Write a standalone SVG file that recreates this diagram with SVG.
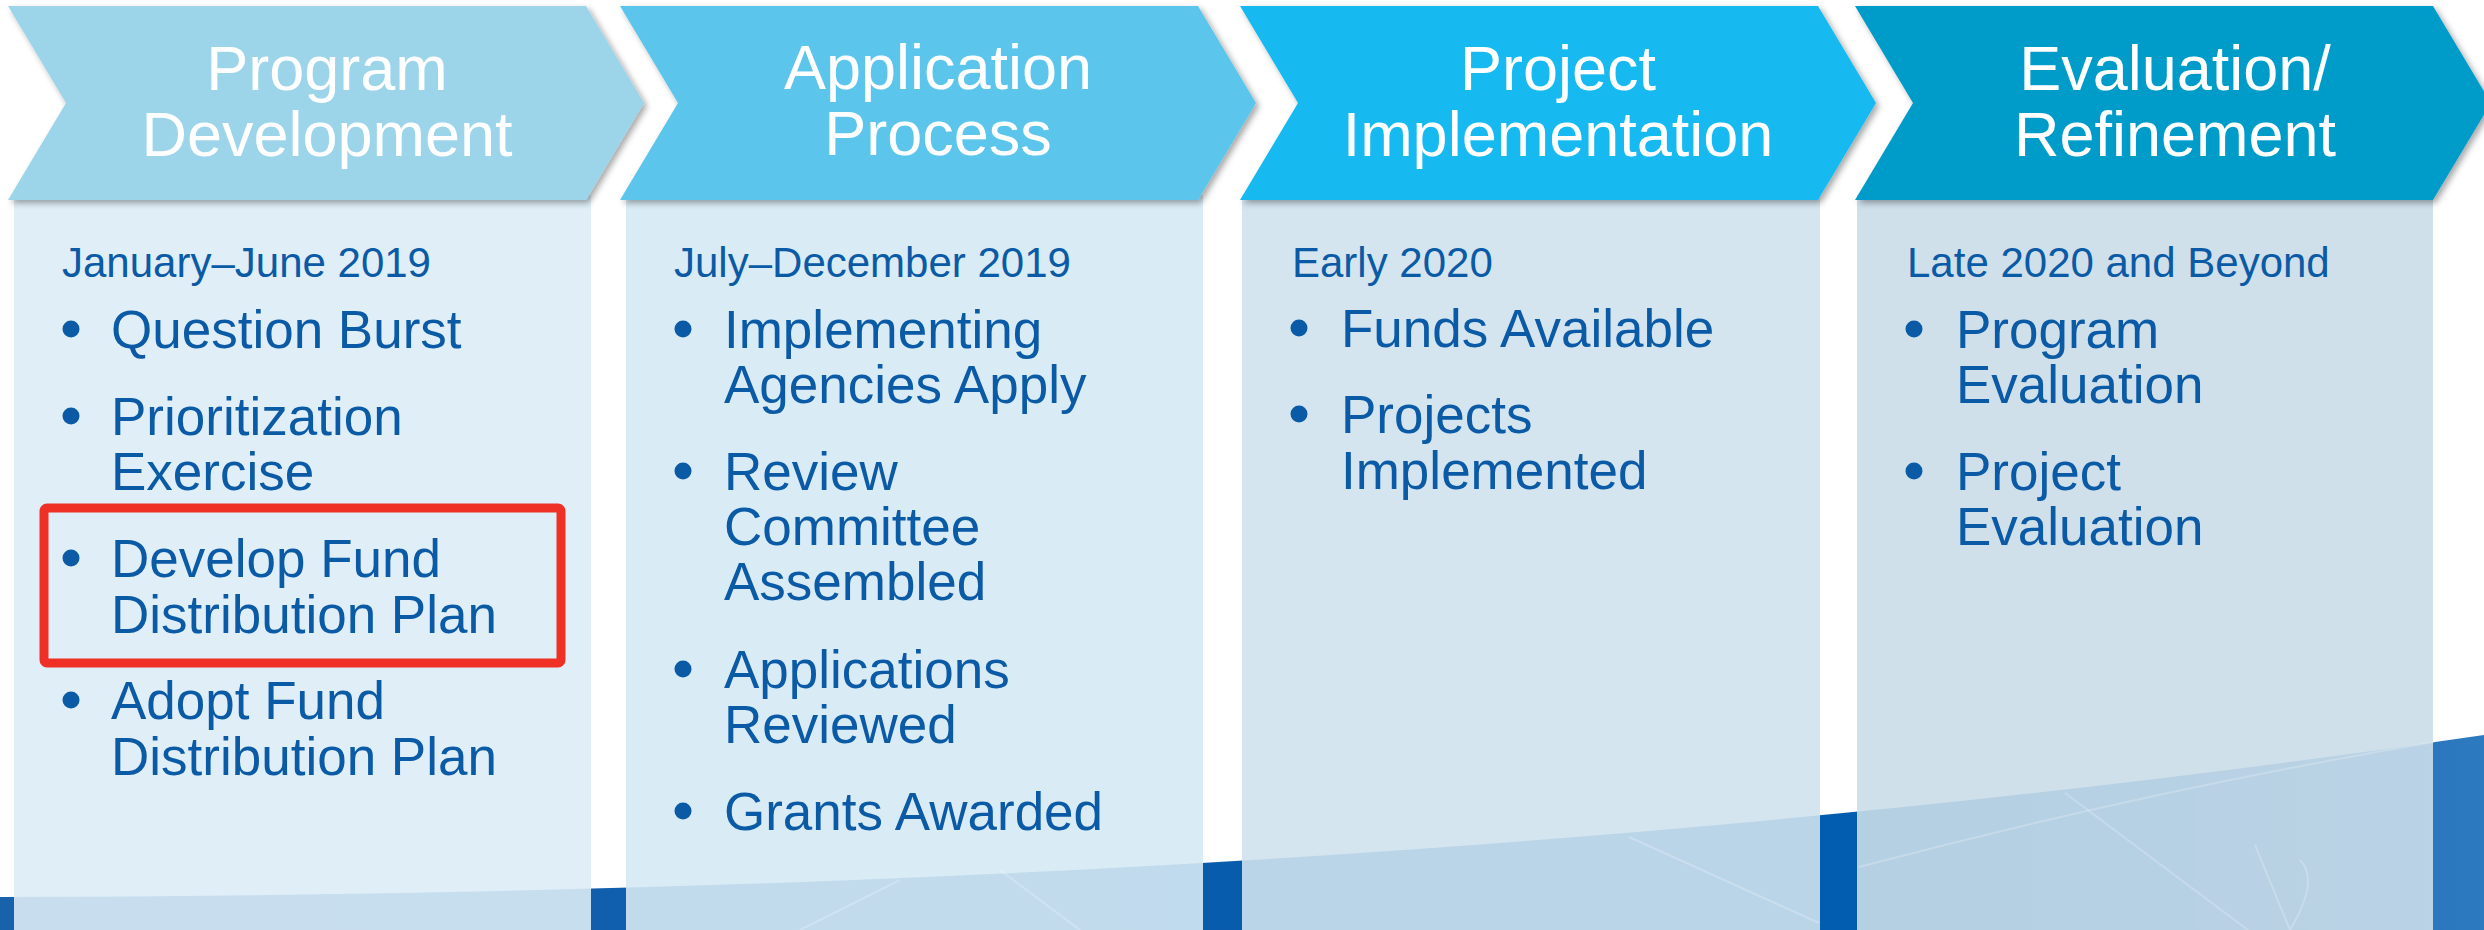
<svg xmlns="http://www.w3.org/2000/svg" width="2484" height="930" viewBox="0 0 2484 930">
  <defs>
    <style>
      .hdr { font-family: "Liberation Sans", Arial, sans-serif; font-size: 63px; fill: #ffffff; text-anchor: middle; }
      .date { font-family: "Liberation Sans", Arial, sans-serif; font-size: 42px; fill: #0b5aa6; }
      .item { font-family: "Liberation Sans", Arial, sans-serif; font-size: 53px; fill: #0b5aa6; }
      .dot { fill: #0b5aa6; }
      .panel { opacity: 0.9; }
      .streak { stroke: #ffffff; stroke-width: 2; fill: none; opacity: 0.22; }
    </style>
    <filter id="shadow" x="-5%" y="-10%" width="112%" height="130%">
      <feDropShadow dx="3" dy="3" stdDeviation="3" flood-color="#000000" flood-opacity="0.35"/>
    </filter>
    <linearGradient id="band" x1="0" y1="0" x2="1" y2="0">
      <stop offset="0" stop-color="#1862ab"/>
      <stop offset="0.45" stop-color="#0a5cac"/>
      <stop offset="0.8" stop-color="#005cb0"/>
      <stop offset="1" stop-color="#2e7ac0"/>
    </linearGradient>
  </defs>

  <!-- background -->
  <g id="background">
    <rect x="0" y="0" width="2484" height="930" fill="#ffffff"/>
    <path d="M0,897 Q1400,895 2484,735 L2484,930 L0,930 Z" fill="url(#band)"/>
  </g>

  <!-- Stage 1 -->
  <g id="stage-program-development">
    <rect class="panel" x="14" y="195" width="577" height="735" fill="#dcecf6"/>
    <path d="M8,6 L586,6 L644,103 L586,200 L8,200 L66,103 Z" fill="#9cd4ea" filter="url(#shadow)"/>
    <text class="hdr" x="327" y="90">Program</text>
    <text class="hdr" x="327" y="156">Development</text>
    <text class="date" x="62" y="277">January–June 2019</text>
    <circle class="dot" cx="71" cy="329" r="8.5"/>
    <text class="item" x="111" y="348">Question Burst</text>
    <circle class="dot" cx="71" cy="416" r="8.5"/>
    <text class="item" x="111" y="435">Prioritization</text>
    <text class="item" x="111" y="490">Exercise</text>
    <circle class="dot" cx="71" cy="558" r="8.5"/>
    <text class="item" x="111" y="577">Develop Fund</text>
    <text class="item" x="111" y="633">Distribution Plan</text>
    <circle class="dot" cx="71" cy="700" r="8.5"/>
    <text class="item" x="111" y="719">Adopt Fund</text>
    <text class="item" x="111" y="775">Distribution Plan</text>
    <rect x="44" y="508" width="517" height="155" rx="3" fill="none" stroke="#ee3124" stroke-width="9"/>
  </g>

  <!-- Stage 2 -->
  <g id="stage-application-process">
    <rect class="panel" x="626" y="195" width="577" height="735" fill="#d5e9f4"/>
    <path d="M620,6 L1198,6 L1256,103 L1198,200 L620,200 L678,103 Z" fill="#5bc5ec" filter="url(#shadow)"/>
    <text class="hdr" x="938" y="89">Application</text>
    <text class="hdr" x="938" y="155">Process</text>
    <text class="date" x="674" y="277">July–December 2019</text>
    <circle class="dot" cx="683" cy="329" r="8.5"/>
    <text class="item" x="724" y="348">Implementing</text>
    <text class="item" x="724" y="403">Agencies Apply</text>
    <circle class="dot" cx="683" cy="471" r="8.5"/>
    <text class="item" x="724" y="490">Review</text>
    <text class="item" x="724" y="545">Committee</text>
    <text class="item" x="724" y="600">Assembled</text>
    <circle class="dot" cx="683" cy="669" r="8.5"/>
    <text class="item" x="724" y="688">Applications</text>
    <text class="item" x="724" y="743">Reviewed</text>
    <circle class="dot" cx="683" cy="811" r="8.5"/>
    <text class="item" x="724" y="830">Grants Awarded</text>
  </g>

  <!-- Stage 3 -->
  <g id="stage-project-implementation">
    <rect class="panel" x="1242" y="195" width="578" height="735" fill="#cfe2ee"/>
    <path d="M1240,6 L1818,6 L1876,103 L1818,200 L1240,200 L1298,103 Z" fill="#18b9f0" filter="url(#shadow)"/>
    <text class="hdr" x="1558" y="90">Project</text>
    <text class="hdr" x="1558" y="156">Implementation</text>
    <text class="date" x="1292" y="277">Early 2020</text>
    <circle class="dot" cx="1299" cy="328" r="8.5"/>
    <text class="item" x="1341" y="347">Funds Available</text>
    <circle class="dot" cx="1299" cy="414" r="8.5"/>
    <text class="item" x="1341" y="433">Projects</text>
    <text class="item" x="1341" y="489">Implemented</text>
  </g>

  <!-- Stage 4 -->
  <g id="stage-evaluation-refinement">
    <rect class="panel" x="1857" y="195" width="576" height="735" fill="#cadde9"/>
    <path d="M1855,6 L2433,6 L2491,103 L2433,200 L1855,200 L1913,103 Z" fill="#019cc9" filter="url(#shadow)"/>
    <text class="hdr" x="2175" y="90">Evaluation/</text>
    <text class="hdr" x="2175" y="156">Refinement</text>
    <text class="date" x="1907" y="277">Late 2020 and Beyond</text>
    <circle class="dot" cx="1914" cy="329" r="8.5"/>
    <text class="item" x="1956" y="348">Program</text>
    <text class="item" x="1956" y="403">Evaluation</text>
    <circle class="dot" cx="1914" cy="471" r="8.5"/>
    <text class="item" x="1956" y="490">Project</text>
    <text class="item" x="1956" y="545">Evaluation</text>
  </g>

  <!-- decorative streaks in the lower band -->
  <g id="decor">
    <path class="streak" d="M1629,837 L1819,923"/>
    <path class="streak" d="M1859,867 Q2150,790 2434,742"/>
    <path class="streak" d="M2065,793 L2248,930"/>
    <path class="streak" d="M2255,845 L2290,930 M2300,860 Q2320,880 2290,930"/>
    <path class="streak" d="M800,930 L900,880 M1000,870 L1080,930"/>
  </g>

  <g id="connectors"/>
</svg>
